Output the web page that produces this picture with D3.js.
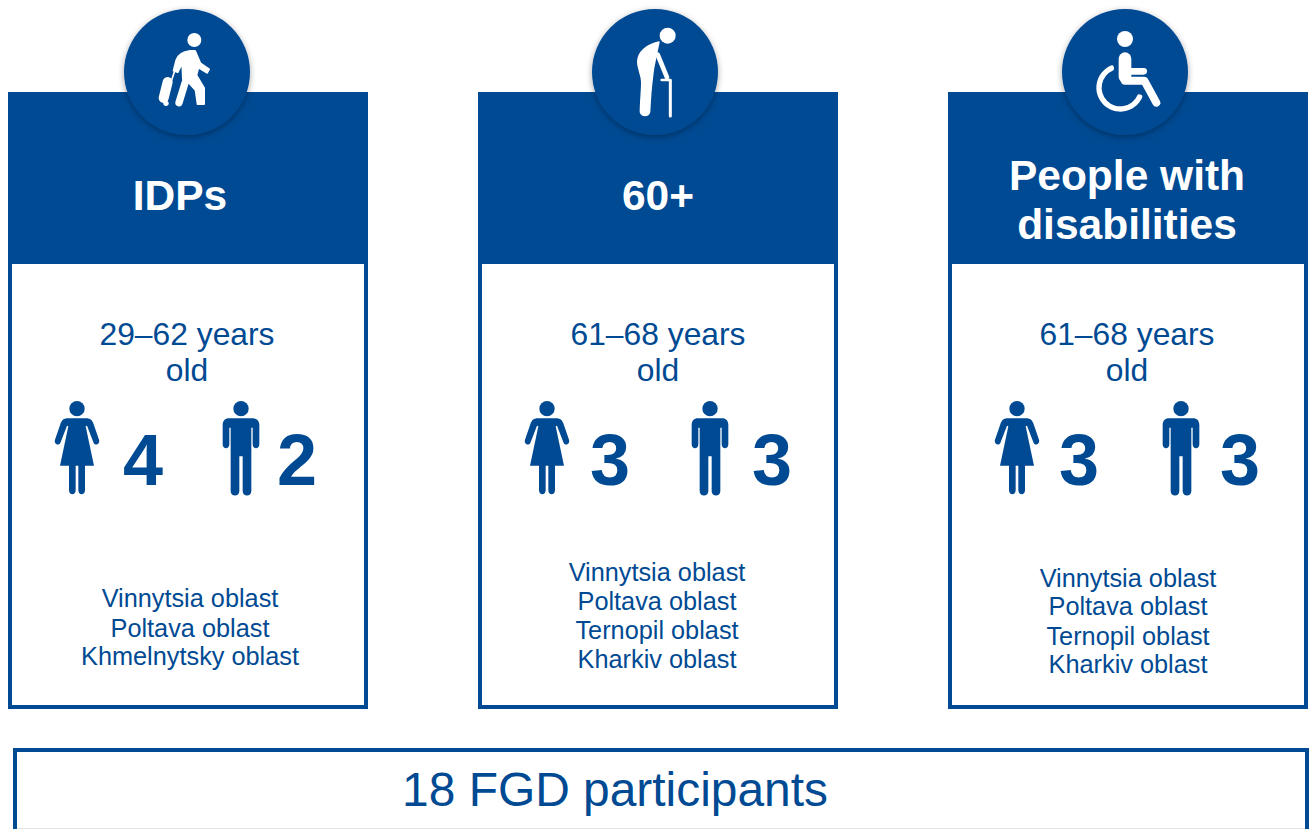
<!DOCTYPE html>
<html>
<head>
<meta charset="utf-8">
<script src="https://cdn.jsdelivr.net/npm/d3@7"></script>
<style>
  html, body { margin: 0; padding: 0; background: #fff; overflow: hidden; }
  text { font-family: "Liberation Sans", Arial, sans-serif; fill: #004a93; text-anchor: middle; }
</style>
</head>
<body>
<svg id="chart" width="1310" height="829"></svg>
<script>
// Values
const groups = ["IDPs", "60+", "People with disabilities"];
const titleLines = [["IDPs"], ["60+"], ["People with", "disabilities"]];
const ages = ["29–62 years", "61–68 years", "61–68 years"];
const women = [4, 3, 3];
const men = [2, 3, 3];
const oblasts = [
  ["Vinnytsia oblast", "Poltava oblast", "Khmelnytsky oblast"],
  ["Vinnytsia oblast", "Poltava oblast", "Ternopil oblast", "Kharkiv oblast"],
  ["Vinnytsia oblast", "Poltava oblast", "Ternopil oblast", "Kharkiv oblast"]
];
const totalLabel = "18 FGD participants";

const blue = "#004a93";
const svg = d3.select("#chart");

// Left edge of each card
const x = d3.scalePoint().domain(groups).range([8, 948]);
const cardWidth = 360;

// Small per-card text offsets, the cards are not quite aligned in the source
const titleCx = [180, 658, 1127];
const ageCx = [187, 658, 1127];
const oblastCx = [190, 657, 1128];
const oblastY = [[606.5, 636.5, 664.5], [580.5, 609.5, 638.5, 667.5], [586.5, 614.5, 644.5, 672.5]];
const iconCx = [187, 655, 1125];

const defs = svg.append("defs");
const shadow = defs.append("filter").attr("id", "shadow")
  .attr("x", "-20%").attr("y", "-20%").attr("width", "140%").attr("height", "140%");
shadow.append("feDropShadow")
  .attr("dx", 0).attr("dy", 2).attr("stdDeviation", 3)
  .attr("flood-color", "#000").attr("flood-opacity", 0.35);

const cards = svg.selectAll("g.card").data(groups).enter().append("g").attr("class", "card");

// Card body and header
cards.append("rect")
  .attr("x", (d) => x(d) + 2)
  .attr("y", 94)
  .attr("width", cardWidth - 4)
  .attr("height", 613)
  .attr("fill", "#fff")
  .attr("stroke", blue)
  .attr("stroke-width", 4);

cards.append("rect")
  .attr("x", (d) => x(d))
  .attr("y", 92)
  .attr("width", cardWidth)
  .attr("height", 172)
  .attr("fill", blue);

// Badge circle
cards.append("circle")
  .attr("cx", (d, i) => iconCx[i])
  .attr("cy", 72)
  .attr("r", 63)
  .attr("fill", blue)
  .attr("filter", "url(#shadow)");

// Titles
cards.each(function (d, i) {
  const lines = titleLines[i];
  const y0 = lines.length === 1 ? 210 : 190;
  d3.select(this).selectAll("text.title").data(lines).enter().append("text")
    .attr("class", "title")
    .attr("x", titleCx[i])
    .attr("y", (l, k) => y0 + k * 49)
    .attr("font-size", 42.5)
    .attr("font-weight", "bold")
    .style("fill", "#fff")
    .text((l) => l);
});

// Age range
cards.append("text")
  .attr("x", (d, i) => ageCx[i]).attr("y", 345)
  .attr("font-size", 31.8)
  .text((d, i) => ages[i]);
cards.append("text")
  .attr("x", (d, i) => ageCx[i]).attr("y", 381)
  .attr("font-size", 31.8)
  .text("old");

// Counts
const womanNumCx = [143, 610, 1079];
const manNumCx = [297, 772, 1240];
cards.append("text")
  .attr("x", (d, i) => womanNumCx[i]).attr("y", 485)
  .attr("font-size", 72).attr("font-weight", "bold")
  .text((d, i) => women[i]);
cards.append("text")
  .attr("x", (d, i) => manNumCx[i]).attr("y", 485)
  .attr("font-size", 72).attr("font-weight", "bold")
  .text((d, i) => men[i]);

// Oblast lists
cards.each(function (d, i) {
  d3.select(this).selectAll("text.oblast").data(oblasts[i]).enter().append("text")
    .attr("class", "oblast")
    .attr("x", oblastCx[i])
    .attr("y", (l, k) => oblastY[i][k])
    .attr("font-size", 25.3)
    .text((l) => l);
});

// Pictograms, traced at 3x so the numbers are crop pixels
function stroke(g, d, w, color) {
  g.append("path").attr("d", d).attr("fill", "none")
    .attr("stroke", color).attr("stroke-width", w)
    .attr("stroke-linecap", "round").attr("stroke-linejoin", "round");
}

function walker(g) {
  g.append("circle").attr("cx", 22).attr("cy", -96).attr("r", 21).attr("fill", "#fff");
  g.append("path").attr("fill", "#fff").attr("stroke", "#fff").attr("stroke-width", 6)
    .attr("stroke-linejoin", "round")
    .attr("d", "M9 -63 C-15 -60 -28 -48 -32 -35 L-40 -4 L-28 0 L-14 -28 L-12 22 L4 30 L26 54 L32 96 L51 96 L51 48 L28 10 L34 -14 L60 2 L66 -8 L40 -26 L24 -63 Z");
  stroke(g, "M-5 30 L-24 92", 22, "#fff");
  stroke(g, "M-58 30 L-70 78", 30, "#fff");
  stroke(g, "M-46 24 L-36 -6", 5, "#fff");
  g.append("circle").attr("cx", -63).attr("cy", 94).attr("r", 8).attr("fill", "#fff");
}

function elder(g) {
  g.append("circle").attr("cx", 38).attr("cy", -109).attr("r", 24).attr("fill", "#fff");
  g.append("path").attr("fill", "#fff").attr("stroke", "#fff").attr("stroke-width", 4)
    .attr("stroke-linejoin", "round")
    .attr("d", "M12 -90 C-25 -82 -52 -60 -52 -30 C-52 -8 -40 8 -40 30 C-40 60 -44 90 -44 120 C-40 134 -20 134 -16 120 C-14 80 -12 50 -8 20 C-6 -5 -2 -25 2 -42 Z");
  stroke(g, "M8 -52 L36 16", 14, "#fff");
  stroke(g, "M46 26 L46 132", 9, "#fff");
  stroke(g, "M20 24 L46 24", 8, "#fff");
}

function wheelchair(g) {
  g.append("circle").attr("cx", 0).attr("cy", -99).attr("r", 24).attr("fill", "#fff");
  stroke(g, "M0 -40 L0 14", 38, "#fff");
  stroke(g, "M0 26 L58 26 L94 92", 24, "#fff");
  stroke(g, "M10 -2 L56 -2", 20, "#fff");
  g.append("path")
    .attr("d", d3.arc().innerRadius(56).outerRadius(72).cornerRadius(6).startAngle(-0.31).endAngle(-4.38)())
    .attr("transform", "translate(-14,47)")
    .attr("fill", "#fff");
}

const icons = [walker, elder, wheelchair];
cards.each(function (d, i) {
  const g = d3.select(this).append("g")
    .attr("transform", `translate(${iconCx[i]},72) scale(${1 / 3})`);
  icons[i](g);
});

// Woman and man figures, same crop-pixel units, x around the figure centre
function woman(g) {
  g.append("circle").attr("cx", 0).attr("cy", -115).attr("r", 23).attr("fill", blue);
  g.append("path").attr("fill", blue)
    .attr("d", "M-28 -86 L28 -86 C40 -86 46 -80 50 -68 L66 -22 C70 -10 56 -2 50 -12 L30 -64 L26 -62 L51 56 L24 56 L24 130 C24 146 4 146 4 130 L4 56 L-4 56 L-4 130 C-4 146 -24 146 -24 130 L-24 56 L-51 56 L-26 -62 L-30 -64 L-50 -12 C-56 -2 -70 -10 -66 -22 L-50 -68 C-46 -80 -40 -86 -28 -86 Z");
}

function man(g) {
  g.append("circle").attr("cx", 0).attr("cy", -115).attr("r", 23).attr("fill", blue);
  g.append("path").attr("fill", blue)
    .attr("d", "M-36 -86 L36 -86 C48 -86 55 -78 55 -66 L55 -8 C55 8 35 8 35 -8 L35 -58 L31 -58 L31 132 C31 150 5 150 5 132 L5 28 L-5 28 L-5 132 C-5 150 -31 150 -31 132 L-31 -58 L-35 -58 L-35 -8 C-35 8 -55 8 -55 -8 L-55 -66 C-55 -78 -48 -86 -36 -86 Z");
}

const womanCx = [77, 547, 1017];
const manCx = [241, 710, 1181];
cards.each(function (d, i) {
  const sel = d3.select(this);
  woman(sel.append("g").attr("transform", `translate(${womanCx[i]},447) scale(${1 / 3})`));
  man(sel.append("g").attr("transform", `translate(${manCx[i]},447) scale(${1 / 3})`));
});

// Total box, runs off the bottom of the page
svg.append("rect")
  .attr("x", 15).attr("y", 750)
  .attr("width", 1292).attr("height", 100)
  .attr("fill", "#fff")
  .attr("stroke", blue).attr("stroke-width", 4);
svg.append("line")
  .attr("x1", 17).attr("x2", 1305).attr("y1", 828.5).attr("y2", 828.5)
  .attr("stroke", "#e4e4e4").attr("stroke-width", 1);
svg.append("text")
  .attr("x", 615).attr("y", 806)
  .attr("font-size", 47.9)
  .text(totalLabel);
</script>
</body>
</html>
